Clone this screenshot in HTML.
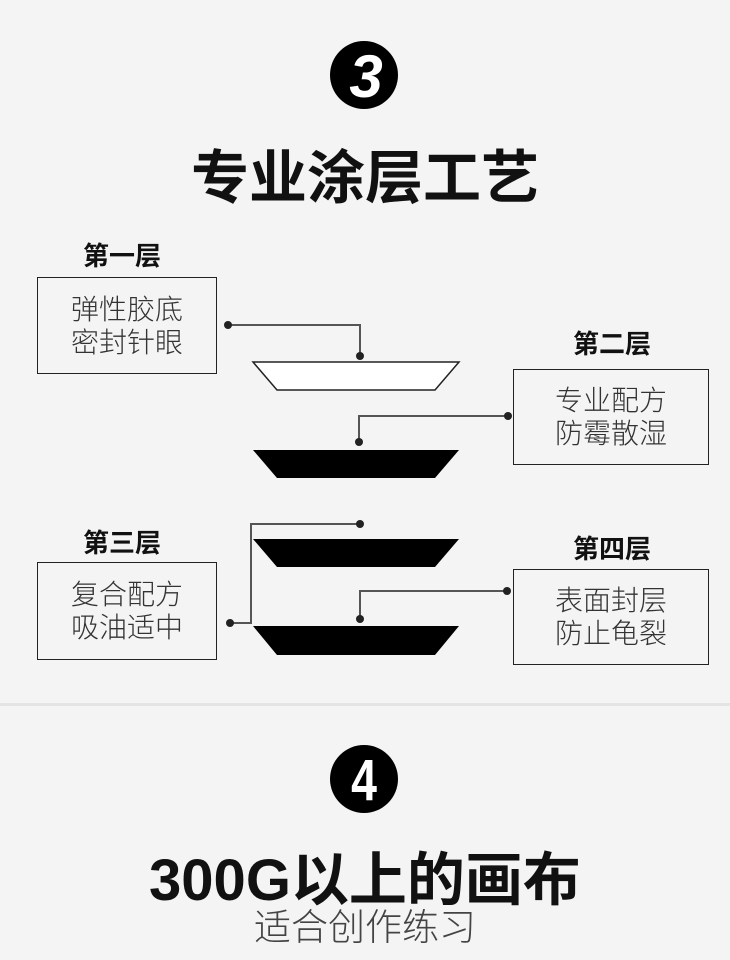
<!DOCTYPE html>
<html><head><meta charset="utf-8"><style>
body{margin:0;width:730px;height:960px;background:#f4f4f4;position:relative;overflow:hidden;font-family:"Liberation Sans","Noto Sans CJK SC",sans-serif;}
.a{position:absolute;white-space:nowrap;}
.lab{font-weight:bold;font-size:26px;color:#111;line-height:30px;text-align:center;width:120px;}
.box{position:absolute;border:1.5px solid #222;box-sizing:border-box;font-size:28px;font-weight:300;color:#333;line-height:33px;text-align:center;display:flex;flex-direction:column;justify-content:center;}
</style></head><body>
<svg class="a" style="left:0;top:0" width="730" height="960">
<circle cx="364" cy="75" r="34" fill="#000"/>
<text x="366" y="97" text-anchor="middle" font-family="Liberation Sans" font-weight="bold" font-style="italic" font-size="60" fill="#fff">3</text>
<circle cx="364" cy="779" r="34" fill="#000"/>
<text x="364" y="800" text-anchor="middle" font-family="Liberation Sans" font-weight="bold" font-size="58" fill="#fff" transform="translate(364 779) scale(0.8 1) translate(-364 -779)">4</text>
<polygon points="253,362 459,362 435,390 277,390" fill="#fff" stroke="#222" stroke-width="1.5"/>
<polygon points="253,450 459,450 435,478 277,478" fill="#000"/>
<polygon points="253,539 459,539 435,567 277,567" fill="#000"/>
<polygon points="253,626 459,626 435,655 277,655" fill="#000"/>
<g stroke="#555" stroke-width="2" fill="none">
<polyline points="228,325 360,325 360,356"/>
<polyline points="508,416 359,416 359,442"/>
<polyline points="360,524 251,524 251,623 230,623"/>
<polyline points="507,591 360,591 360,619"/>
</g>
<g fill="#222">
<circle cx="228" cy="325" r="4"/><circle cx="360" cy="356" r="4"/>
<circle cx="508" cy="416" r="4"/><circle cx="359" cy="442" r="4"/>
<circle cx="360" cy="524" r="4"/><circle cx="230" cy="623" r="4"/>
<circle cx="507" cy="591" r="4"/><circle cx="360" cy="619" r="4"/>
</g>
<rect x="0" y="703" width="730" height="3" fill="#e4e4e4"/>
</svg>
<div class="a" style="left:0;width:730px;text-align:center;top:146px;font-size:58px;font-weight:bold;color:#111;line-height:66px;">专业涂层工艺</div>
<div class="a lab" style="left:62px;top:241px;">第一层</div>
<div class="a lab" style="left:552px;top:329px;">第二层</div>
<div class="a lab" style="left:62px;top:528px;">第三层</div>
<div class="a lab" style="left:552px;top:534px;">第四层</div>
<div class="box" style="left:37px;top:277px;width:180px;height:97px;"><div>弹性胶底</div><div>密封针眼</div></div>
<div class="box" style="left:513px;top:369px;width:196px;height:96px;"><div>专业配方</div><div>防霉散湿</div></div>
<div class="box" style="left:37px;top:562px;width:180px;height:98px;"><div>复合配方</div><div>吸油适中</div></div>
<div class="box" style="left:513px;top:569px;width:196px;height:96px;"><div>表面封层</div><div>防止龟裂</div></div>
<div class="a" style="left:0;width:730px;text-align:center;top:848px;font-size:58px;font-weight:bold;color:#111;line-height:66px;">300G以上的画布</div>
<div class="a" style="left:0;width:730px;text-align:center;top:906px;font-size:37px;font-weight:200;color:#444;line-height:44px;">适合创作练习</div>
</body></html>
